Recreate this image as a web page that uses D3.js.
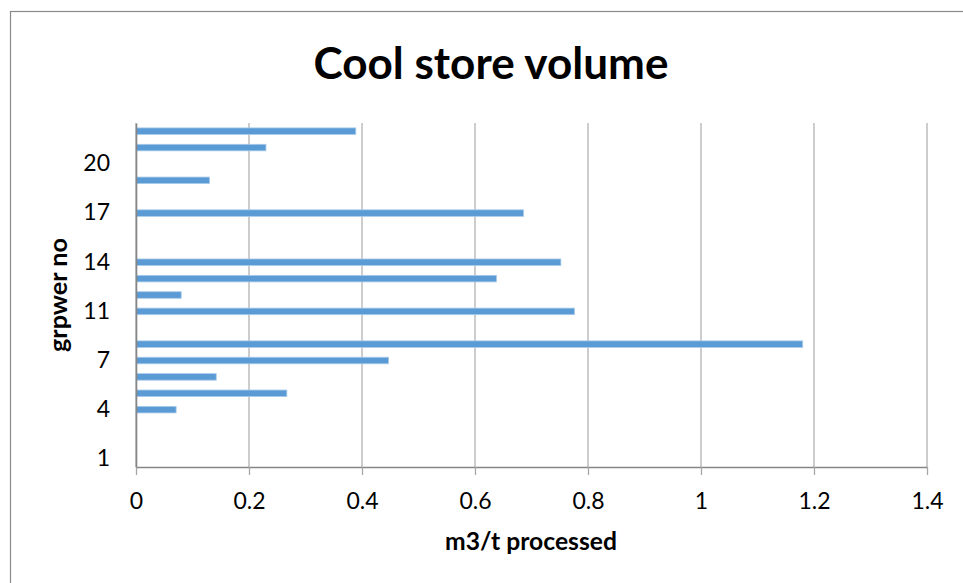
<!DOCTYPE html>
<html>
<head>
<meta charset="utf-8">
<script src="https://cdn.jsdelivr.net/npm/d3@7"></script>
<style>
  body { margin: 0; background: #fff; }
  text { font-family: Lato, "Noto Sans", sans-serif; fill: #000; }
</style>
</head>
<body>
<div class="chart"></div>
<script>
// grower categories, bottom to top (only every 3rd label is shown on the axis)
var growers = ['1','2','3','4','5','6','7','8','9','11','12','13','14','15','16','17','18','19','20','21','22'];
// m3/t processed, null where there is no bar
var volumes = [null, null, null, 0.071, 0.267, 0.142, 0.447, 1.18, null, 0.776, 0.080, 0.638, 0.752, null, null, 0.686, null, 0.130, null, 0.230, 0.389];
var xTicks = [0, 0.2, 0.4, 0.6, 0.8, 1, 1.2, 1.4];

var size = { width: 963, height: 583 };
var plot = { left: 136, right: 927, top: 123, bottom: 467 };

var svg = d3.select('.chart')
            .append('svg')
            .attr('width', size.width)
            .attr('height', size.height);

// chart area border (runs off the right and bottom edges)
svg.append('rect')
   .attr('x', 10.5).attr('y', 11.5)
   .attr('width', 1000).attr('height', 1000)
   .attr('fill', 'none')
   .attr('stroke', '#8a8a8a')
   .attr('stroke-width', 1.2);

var x = d3.scaleLinear().domain([0, 1.4]).range([plot.left, plot.right]);

var y = d3.scaleBand()
          .domain(growers)
          .range([plot.bottom, plot.top])
          .paddingInner(0.6)
          .paddingOuter(0.3);

var fit = function(sel, w) {
  var len = sel.node().getComputedTextLength();
  var fs = parseFloat(sel.attr('font-size'));
  sel.attr('font-size', fs * w / len);
};

// vertical gridlines
svg.append('g')
   .selectAll('line')
   .data(xTicks)
   .enter()
   .append('line')
   .attr('x1', function(d){ return x(d); })
   .attr('x2', function(d){ return x(d); })
   .attr('y1', plot.top)
   .attr('y2', plot.bottom)
   .attr('stroke', '#b2b2b2')
   .attr('stroke-width', 1.3);

// bars
svg.append('g')
   .selectAll('rect')
   .data(growers.map(function(g, i){ return { g: g, v: volumes[i] }; })
                .filter(function(d){ return d.v != null; }))
   .enter()
   .append('rect')
   .attr('x', x(0))
   .attr('y', function(d){ return y(d.g); })
   .attr('width', function(d){ return x(d.v) - x(0); })
   .attr('height', y.bandwidth())
   .attr('fill', '#5b9bd5')
   .attr('stroke', '#a9cbea')
   .attr('stroke-width', 0.8);

// x axis
var xAxis = svg.append('g')
   .attr('transform', 'translate(0,' + plot.bottom + ')')
   .call(d3.axisBottom(x).tickValues(xTicks).tickSize(8).tickSizeOuter(0)
           .tickFormat(function(d){ return String(d); }));
xAxis.select('.domain').attr('stroke', '#868686').attr('stroke-width', 1.6);
xAxis.selectAll('.tick line').attr('stroke', '#a6a6a6').attr('stroke-width', 1.3);
xAxis.selectAll('.tick text')
     .attr('dy', null).attr('y', 42)
     .attr('font-size', 23).attr('font-family', 'Lato').attr('fill', '#000');

// y axis
var yAxis = svg.append('g')
   .attr('transform', 'translate(' + plot.left + ',0)')
   .call(d3.axisLeft(y)
           .tickValues(growers.filter(function(d, i){ return i % 3 === 0; }))
           .tickSize(0).tickPadding(26));
yAxis.select('.domain').attr('stroke', '#868686').attr('stroke-width', 1.6);
yAxis.selectAll('.tick text')
     .attr('font-size', 23).attr('font-family', 'Lato').attr('fill', '#000');

// titles
var title = svg.append('text')
   .attr('x', 491).attr('y', 79)
   .attr('text-anchor', 'middle')
   .attr('font-weight', 'bold')
   .attr('font-size', 44)
   .text('Cool store volume');
fit(title, 355);

var xTitle = svg.append('text')
   .attr('x', 531).attr('y', 550)
   .attr('text-anchor', 'middle')
   .attr('font-weight', 'bold')
   .attr('font-size', 24)
   .text('m3/t processed');
fit(xTitle, 172);

var yTitle = svg.append('text')
   .attr('transform', 'translate(67,295) rotate(-90)')
   .attr('text-anchor', 'middle')
   .attr('font-weight', 'bold')
   .attr('font-size', 24)
   .text('grpwer no');
fit(yTitle, 114);
</script>
</body>
</html>
